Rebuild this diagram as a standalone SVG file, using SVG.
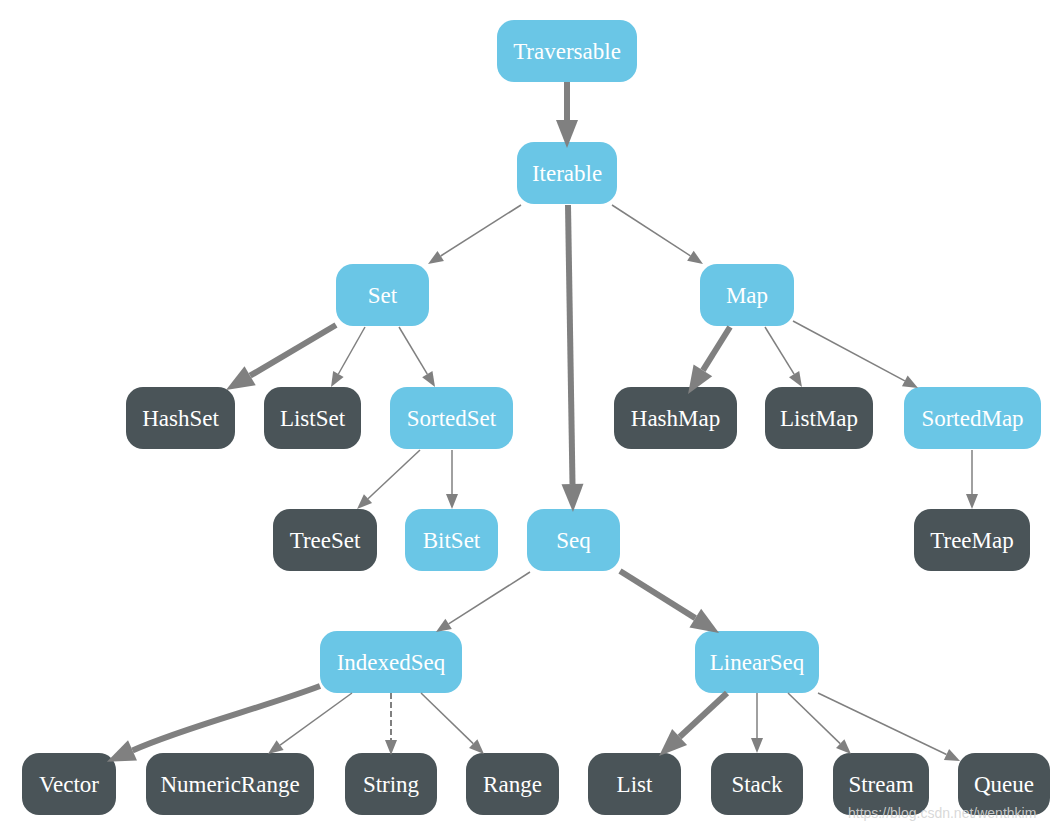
<svg xmlns="http://www.w3.org/2000/svg" width="1056" height="826" viewBox="0 0 1056 826">
<style>
.n rect{stroke:none}
.b rect{fill:#6AC6E6}
.d rect{fill:#4A5458}
.n text{font-family:"Liberation Serif","Times New Roman",serif;font-size:23px;fill:#ffffff;text-anchor:middle}
.e{fill:none;stroke:#808080}
.t{stroke-width:6;marker-end:url(#big)}
.s{stroke-width:1.5;marker-end:url(#small)}
.dash{stroke-width:2;stroke-dasharray:6,3}
.wm{font-family:"Liberation Sans",Arial,sans-serif;font-size:14px;fill:#d4d4d4;fill-opacity:0.9}
</style>
<defs>
<marker id="big" markerUnits="userSpaceOnUse" markerWidth="28" markerHeight="24" refX="0" refY="12" orient="auto" overflow="visible"><path d="M0,1 L28,12 L0,23 z" fill="#808080"/></marker>
<marker id="small" markerUnits="userSpaceOnUse" markerWidth="15" markerHeight="13" refX="0" refY="6.5" orient="auto" overflow="visible"><path d="M0,0.5 L15,6.5 L0,12.5 z" fill="#808080"/></marker>
</defs>
<rect width="1056" height="826" fill="#ffffff"/>
<g id="Traversable" class="n b"><rect x="497" y="20" width="140" height="62" rx="17"/><text x="567" y="59">Traversable</text></g>
<g id="Iterable" class="n b"><rect x="517" y="142" width="100" height="62" rx="17"/><text x="567" y="181">Iterable</text></g>
<g id="Set" class="n b"><rect x="336" y="264" width="93" height="62" rx="17"/><text x="382.5" y="303">Set</text></g>
<g id="Map" class="n b"><rect x="700" y="264" width="94" height="62" rx="17"/><text x="747" y="303">Map</text></g>
<g id="HashSet" class="n d"><rect x="126" y="387" width="109" height="62" rx="17"/><text x="180.5" y="426">HashSet</text></g>
<g id="ListSet" class="n d"><rect x="264" y="387" width="97" height="62" rx="17"/><text x="312.5" y="426">ListSet</text></g>
<g id="SortedSet" class="n b"><rect x="390" y="387" width="123" height="62" rx="17"/><text x="451.5" y="426">SortedSet</text></g>
<g id="HashMap" class="n d"><rect x="614" y="387" width="123" height="62" rx="17"/><text x="675.5" y="426">HashMap</text></g>
<g id="ListMap" class="n d"><rect x="765" y="387" width="108" height="62" rx="17"/><text x="819" y="426">ListMap</text></g>
<g id="SortedMap" class="n b"><rect x="904" y="387" width="137" height="62" rx="17"/><text x="972.5" y="426">SortedMap</text></g>
<g id="TreeSet" class="n d"><rect x="273" y="509" width="104" height="62" rx="17"/><text x="325" y="548">TreeSet</text></g>
<g id="BitSet" class="n b"><rect x="405" y="509" width="93" height="62" rx="17"/><text x="451.5" y="548">BitSet</text></g>
<g id="Seq" class="n b"><rect x="527" y="509" width="93" height="62" rx="17"/><text x="573.5" y="548">Seq</text></g>
<g id="TreeMap" class="n d"><rect x="914" y="509" width="116" height="62" rx="17"/><text x="972" y="548">TreeMap</text></g>
<g id="IndexedSeq" class="n b"><rect x="320" y="631" width="142" height="62" rx="17"/><text x="391" y="670">IndexedSeq</text></g>
<g id="LinearSeq" class="n b"><rect x="695" y="631" width="124" height="62" rx="17"/><text x="757" y="670">LinearSeq</text></g>
<g id="Vector" class="n d"><rect x="22" y="753" width="94" height="62" rx="17"/><text x="69" y="792">Vector</text></g>
<g id="NumericRange" class="n d"><rect x="146" y="753" width="168" height="62" rx="17"/><text x="230" y="792">NumericRange</text></g>
<g id="String" class="n d"><rect x="345" y="753" width="92" height="62" rx="17"/><text x="391" y="792">String</text></g>
<g id="Range" class="n d"><rect x="466" y="753" width="93" height="62" rx="17"/><text x="512.5" y="792">Range</text></g>
<g id="List" class="n d"><rect x="588" y="753" width="93" height="62" rx="17"/><text x="634.5" y="792">List</text></g>
<g id="Stack" class="n d"><rect x="711" y="753" width="92" height="62" rx="17"/><text x="757" y="792">Stack</text></g>
<g id="Stream" class="n d"><rect x="833" y="753" width="96" height="62" rx="17"/><text x="881" y="792">Stream</text></g>
<g id="Queue" class="n d"><rect x="958" y="753" width="92" height="62" rx="17"/><text x="1004" y="792">Queue</text></g>
<g id="connectors">
<path class="e t" d="M567,82 L567,120"/>
<path class="e s" d="M521,205 L440.7,256"/>
<path class="e s" d="M612,205 L690.4,255.8"/>
<path class="e t" d="M568,205 L572.5,484"/>
<path class="e t" d="M336,325 L250.1,375.7"/>
<path class="e s" d="M365,327 L338.4,374"/>
<path class="e s" d="M399,327 L427.3,374.1"/>
<path class="e t" d="M730,327 L702.9,370.3"/>
<path class="e s" d="M765,327 L794.1,374.2"/>
<path class="e s" d="M793,321 L904.8,380.9"/>
<path class="e s" d="M420,450 L368,498.7"/>
<path class="e s" d="M452,450 L452,494"/>
<path class="e s" d="M972,450 L972,494"/>
<path class="e s" d="M530,572 L448.6,623.9"/>
<path class="e t" d="M620,571 L695.3,618.1"/>
<path class="e t" d="M320,686 C262,708 185,727 132.5,750.4"/>
<path class="e s" d="M352,693 L280.1,745.2"/>
<path class="e s dash" d="M391,693 L391,740"/>
<path class="e s" d="M421,693 L473.2,743.6"/>
<path class="e t" d="M727,693 L679.6,737"/>
<path class="e s" d="M757,693 L757,738"/>
<path class="e s" d="M788,693 L840.2,743.6"/>
<path class="e s" d="M818,693 L946.5,754.5"/>
</g>
<text class="wm" x="848" y="818">https://blog.csdn.net/wenthkim</text>
</svg>
